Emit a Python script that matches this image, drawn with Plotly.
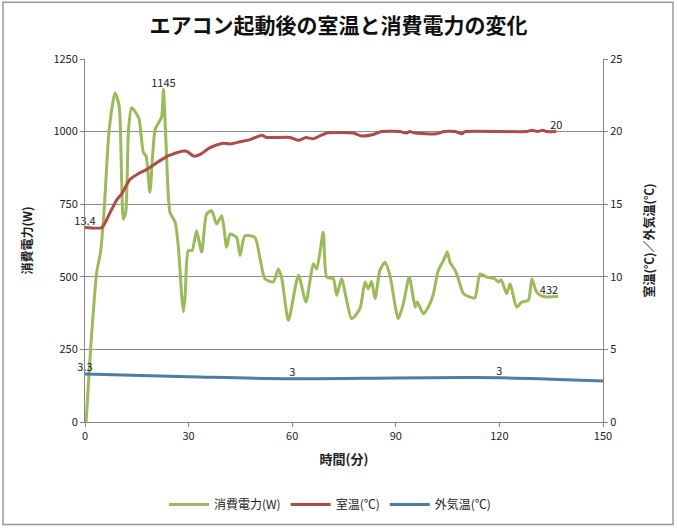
import plotly.graph_objects as go

# ---------------------------------------------------------------------------
# Data
# ---------------------------------------------------------------------------

# 消費電力 (W)
power_t = [0.3, 1.7, 3.4, 4.5, 5.5, 7.0, 8.7, 9.9, 10.6, 11.1, 11.8, 12.6, 13.5,
           15.0, 15.7, 16.9, 17.7, 18.8, 20.3, 22.2, 22.7, 23.5, 24.6, 26.1, 27.0,
           28.0, 28.5, 29.0, 29.9, 31.0, 32.3, 33.8, 35.2, 36.7, 38.1, 39.6, 41.0,
           42.0, 43.9, 44.9, 46.3, 49.2, 50.7, 52.1, 54.5, 56.0, 57.0, 58.9, 61.8,
           64.0, 66.1, 67.1, 69.0, 70.0, 71.9, 72.9, 74.3, 77.2, 79.6, 81.1, 82.0,
           83.0, 84.0, 85.4, 86.9, 88.3, 90.7, 92.2, 93.9, 95.6, 96.2, 98.0, 99.9,
           100.9, 102.3, 103.8, 104.9, 105.7, 107.2, 108.1, 109.6, 111.5, 112.9,
           114.4, 116.3, 118.7, 119.7, 120.5, 122.1, 123.1, 125.0, 126.5, 128.4,
           129.4, 130.8, 132.7, 137.0]
power_w = [0, 265, 516, 585, 722, 1007, 1134, 1087, 836, 699, 722, 1007, 1082,
           1060, 1041, 928, 915, 791, 1007, 1051, 1145, 950, 722, 688, 607,
           436, 380, 436, 590, 590, 659, 585, 716, 727, 682, 710, 602,
           647, 636, 573, 641, 636, 562, 493, 482, 527, 493, 350, 505,
           413, 545, 527, 653, 499, 493, 436, 493, 356, 390, 482, 459,
           484, 425, 522, 550, 505, 356, 408, 499, 396, 413, 373, 408,
           442, 522, 556, 585, 550, 522, 493, 442, 430, 427,
           510, 499, 493, 482, 490, 442, 476, 396, 413, 419,
           493, 447, 432, 432]
power_lbl = {22.7: "1145", 137.0: "432"}

# 室温 (℃)
room_t = [0, 4.9, 7.0, 9.2, 10.6, 13.0, 15.4, 17.9, 19.8, 21.7, 23.8, 26.0, 28.0,
          29.4, 31.6, 33.5, 36.2, 40.0, 42.0, 44.9, 47.8, 51.2, 52.6, 59.4, 61.8,
          64.0, 66.0, 68.0, 70.0, 77.7, 80.1, 83.5, 85.9, 91.2, 93.0, 94.0, 95.6,
          101.8, 104.0, 107.2, 109.1, 110.0, 127.9, 129.4, 131.0, 132.5, 133.7, 136.5]
room_c = [13.4, 13.4, 14.3, 15.3, 15.7, 16.7, 17.1, 17.4, 17.7, 18.0, 18.3, 18.5, 18.65,
          18.65, 18.3, 18.45, 18.9, 19.2, 19.15, 19.3, 19.45, 19.75, 19.6, 19.6, 19.4,
          19.6, 19.5, 19.7, 19.9, 19.9, 19.7, 19.8, 20.0, 20.0, 19.9, 20.0, 19.9,
          19.85, 20.0, 20.0, 19.85, 20.0, 20.0, 20.1, 20.0, 20.1, 20.0, 20.0]
room_lbl = {0: "13.4", 136.5: "20"}

# 外気温 (℃)
out_t = [0, 30, 60, 90, 110, 120, 135, 150]
out_c = [3.3, 3.12, 2.98, 3.03, 3.06, 3.05, 2.95, 2.83]
out_lbl = {0: "3.3", 60: "3", 120: "3"}

x_ticks = [0, 30, 60, 90, 120, 150]
left_ticks = [0, 250, 500, 750, 1000, 1250]
right_ticks = [0, 5, 10, 15, 20, 25]

C = dict(power="#9BBB59", room="#B04A47", out="#4A7EA6",
         grid="#8C8C8C", axis="#868686", text="#222222")
FONT = "Noto Sans CJK JP"

# plot area in pixels (677 x 531 canvas)
L, R, T, B = 85, 74, 59, 107
PW, PH = 677 - L - R, 531 - T - B


def labels(ts, lbl):
    return [lbl.get(t, "") for t in ts]


fig = go.Figure()
fig.add_trace(go.Scatter(
    x=power_t, y=power_w, name="消費電力(W)", mode="lines+text", cliponaxis=False,
    line=dict(color=C["power"], width=3, shape="spline", smoothing=0.6),
    text=labels(power_t, power_lbl),
    textposition=["top left" if t == power_t[-1] else "top center" for t in power_t],
    textfont=dict(size=11, color=C["text"]),
))
fig.add_trace(go.Scatter(
    x=room_t, y=room_c, name="室温(℃)", mode="lines+text", yaxis="y2", cliponaxis=False,
    line=dict(color=C["room"], width=3, shape="spline", smoothing=0.6),
    text=labels(room_t, room_lbl), textposition="top center",
    textfont=dict(size=11, color=C["text"]),
))
fig.add_trace(go.Scatter(
    x=out_t, y=out_c, name="外気温(℃)", mode="lines+text", yaxis="y2", cliponaxis=False,
    line=dict(color=C["out"], width=3, shape="spline"),
    text=labels(out_t, out_lbl), textposition="top center",
    textfont=dict(size=11, color=C["text"]),
))

axis_common = dict(
    showline=True, linecolor=C["axis"], linewidth=1,
    tickfont=dict(size=11, color=C["text"]), zeroline=False,
    ticks="outside", ticklen=4, tickcolor=C["axis"],
)

fig.update_layout(
    width=677, height=531,
    margin=dict(l=L, r=R, t=T, b=B),
    paper_bgcolor="white", plot_bgcolor="white",
    font=dict(family=FONT, color=C["text"]),
    title=dict(text="<b>エアコン起動後の室温と消費電力の変化</b>",
               x=0.5, xanchor="center", y=1 - 26 / 531, yanchor="middle",
               font=dict(size=21, color="#111111")),
    xaxis=dict(range=[0, 150], tickvals=x_ticks, showgrid=False,
               title=dict(text="<b>時間(分)</b>", font=dict(size=13), standoff=12),
               **axis_common),
    yaxis=dict(range=[0, 1250], tickvals=left_ticks, showgrid=True,
               gridcolor=C["grid"], gridwidth=1,
               title=dict(text="<b>消費電力(W)</b>", font=dict(size=12), standoff=18),
               **axis_common),
    yaxis2=dict(range=[0, 25], tickvals=right_ticks, overlaying="y", side="right",
                showgrid=False,
                title=dict(text="<b>室温(℃)／外気温(℃)</b>", font=dict(size=12), standoff=24),
                **axis_common),
    showlegend=True,
    legend=dict(orientation="h", x=(330 - L) / PW, xanchor="center",
                y=(424 - 507) / PH, yanchor="middle",
                font=dict(size=12, color=C["text"]), bgcolor="rgba(0,0,0,0)",
                itemwidth=40),
)

# thin frame round the whole chart, like the Excel chart area
fig.add_shape(type="rect", xref="paper", yref="paper",
              x0=(3 - L) / PW, x1=(673 - L) / PW,
              y0=(424 - 527) / PH, y1=(424 - 2) / PH,
              line=dict(color="#9A9A9A", width=1.5), layer="below")

# drop the page's default 8px body margin so the chart sits at the window edge
fig.write_html("out.html", config={"displayModeBar": False},
               post_script="document.body.style.margin='0';")
